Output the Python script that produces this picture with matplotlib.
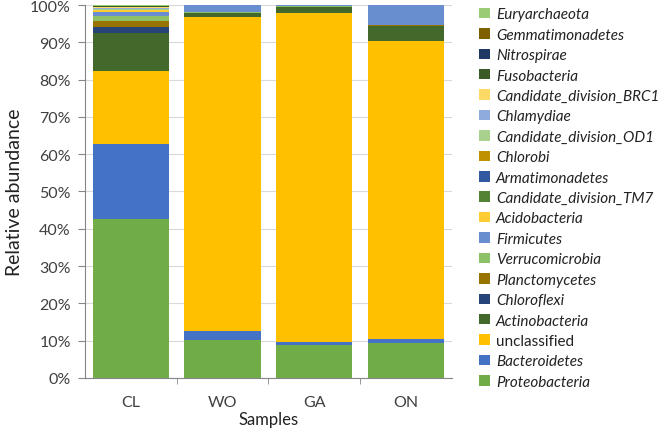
import numpy as np
import matplotlib.pyplot as plt
from matplotlib.patches import Patch

samples = ["CL", "WO", "GA", "ON"]

# stacking order, bottom to top
taxa = ["Proteobacteria", "Bacteroidetes", "unclassified", "Actinobacteria",
        "Chloroflexi", "Planctomycetes", "Verrucomicrobia", "Firmicutes",
        "Acidobacteria", "Candidate_division_TM7", "Armatimonadetes", "Chlorobi",
        "Candidate_division_OD1", "Chlamydiae", "Candidate_division_BRC1",
        "Fusobacteria", "Nitrospirae", "Gemmatimonadetes", "Euryarchaeota"]

colors = ["#70AD47", "#4472C4", "#FFC000", "#43682B",
          "#264478", "#997300", "#8CC168", "#698ED0",
          "#FFCD33", "#548235", "#335AA1", "#BF9000",
          "#A9D18E", "#8FAADC", "#FFD966",
          "#3A5A26", "#203864", "#7F6000", "#9BCB75"]

# percent per sample (CL, WO, GA, ON)
proteobacteria = [42.7, 10.2, 8.8, 9.3]
bacteroidetes = [20.0, 2.3, 0.8, 1.0]
unclassified = [19.6, 84.4, 88.3, 80.2]
actinobacteria = [10.2, 1.0, 1.5, 3.8]
chloroflexi = [1.6, 0.05, 0.1, 0.2]
planctomycetes = [1.55, 0.05, 0.05, 0.05]
verrucomicrobia = [1.5, 0.1, 0.3, 0.05]
firmicutes = [1.0, 1.9, 0.15, 5.4]
acidobacteria = [0.4, 0, 0, 0]
tm7 = [0.05, 0, 0, 0]
armatimonadetes = [0.05, 0, 0, 0]
chlorobi = [0.15, 0, 0, 0]
od1 = [0.2, 0, 0, 0]
chlamydiae = [0.15, 0, 0, 0]
brc1 = [0.3, 0, 0, 0]
fusobacteria = [0.2, 0, 0, 0]
nitrospirae = [0.1, 0, 0, 0]
gemmatimonadetes = [0.1, 0, 0, 0]
euryarchaeota = [0.15, 0, 0, 0]

values = [proteobacteria, bacteroidetes, unclassified, actinobacteria,
          chloroflexi, planctomycetes, verrucomicrobia, firmicutes,
          acidobacteria, tm7, armatimonadetes, chlorobi, od1, chlamydiae,
          brc1, fusobacteria, nitrospirae, gemmatimonadetes, euryarchaeota]

plt.rcParams['font.family'] = ['Lato', 'DejaVu Sans']

fig = plt.figure(figsize=(6.62, 4.35), dpi=100)
ax = fig.add_axes([0.128, 0.129, 0.555, 0.857])

x = np.arange(len(samples))
bottom = np.zeros(len(samples))
for name, vals, c in zip(taxa, values, colors):
    v = np.array(vals, dtype=float)
    ax.bar(x, v, 0.83, bottom=bottom, color=c, linewidth=0, zorder=2)
    bottom += v

ax.set_xlim(-0.5, 3.5)
ax.set_ylim(0, 100)
ax.set_yticks(np.arange(0, 101, 10))
ax.set_yticklabels([f"{t}%" for t in range(0, 101, 10)], fontsize=11.5, color="#404040")
ax.set_xticks(x)
ax.set_xticklabels(samples, fontsize=11.5, color="#404040")
ax.set_xticks(np.arange(0.5, 3, 1), minor=True)
ax.tick_params(axis='x', which='major', length=0, pad=12)
ax.tick_params(axis='x', which='minor', length=4, color="#868686")
ax.tick_params(axis='y', length=5, color="#868686", pad=5)
ax.grid(axis='y', color="#D9D9D9", linewidth=0.8, zorder=0)
for s in ["top", "right"]:
    ax.spines[s].set_visible(False)
for s in ["left", "bottom"]:
    ax.spines[s].set_color("#868686")
ax.set_ylabel("Relative abundance", fontsize=14, color="#222222", labelpad=5)
ax.set_xlabel("Samples", fontsize=12, color="#222222", labelpad=2)

handles = [Patch(facecolor=c, edgecolor='none') for c in colors][::-1]
labels = taxa[::-1]
leg = fig.legend(handles, labels, loc="upper left", bbox_to_anchor=(0.715, 0.995),
                 frameon=False, fontsize=11, handlelength=0.68, handleheight=0.68,
                 handletextpad=0.4, labelspacing=0.42, borderaxespad=0)
for t in leg.get_texts():
    if t.get_text() != "unclassified":
        t.set_fontstyle("italic")
    t.set_color("#222222")

fig.savefig("out.png", dpi=100)
